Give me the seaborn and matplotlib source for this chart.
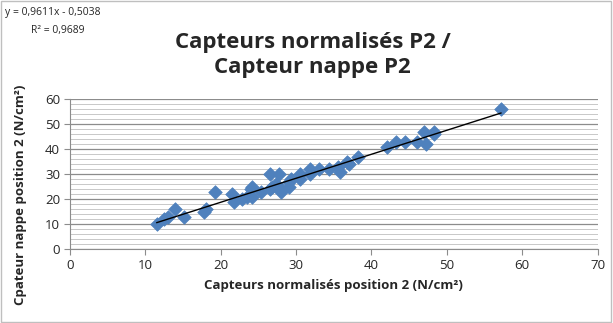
import pandas as pd
import matplotlib.pyplot as plt
import seaborn as sns
import numpy as np

# sensor readings
capteurs_norm = [11.5, 12.5, 13.0, 14.0, 15.2, 17.8, 18.0, 19.2, 21.5, 21.8,
                 22.8, 23.5, 24.0, 24.2, 24.2, 25.3, 26.5, 26.8, 26.5, 27.3,
                 27.8, 28.0, 28.0, 29.0, 29.3, 29.0, 30.5, 30.5, 31.8, 31.8,
                 33.0, 34.3, 35.5, 35.8, 36.8, 37.0, 38.2, 42.0, 43.2, 44.5,
                 46.0, 47.0, 47.2, 48.3, 48.3, 57.2]
capteur_nappe = [10, 12, 13, 16, 13, 15, 16, 23, 22, 19,
                 20, 21, 24, 25, 21, 23, 30, 25, 24, 26,
                 30, 23, 24, 27, 28, 25, 28, 30, 32, 30,
                 32, 32, 33, 31, 35, 34, 37, 41, 43, 43,
                 43, 47, 42, 47, 46, 56]
slope = 0.9611
intercept = -0.5038
r2 = 0.9689

df = pd.DataFrame({'x': capteurs_norm, 'y': capteur_nappe})

sns.set_style('white')
plt.rcParams['font.family'] = ['Open Sans', 'DejaVu Sans']

fig = plt.figure(figsize=(6.13, 3.23), dpi=100)
ax = fig.add_axes([0.114, 0.229, 0.861, 0.464])

ax.set_xlim(0, 70)
ax.set_ylim(0, 60)
ax.set_xticks(range(0, 71, 10))
ax.set_yticks(range(0, 61, 10))
ax.set_yticks(range(0, 61, 2), minor=True)
ax.grid(True, which='major', axis='y', color='#8c8c8c', lw=0.9)
ax.grid(True, which='minor', axis='y', color='#c8c8c8', lw=0.7)
ax.set_axisbelow(True)

sns.scatterplot(data=df, x='x', y='y', marker='D', s=48, color='#4f81bd',
                edgecolor='#4f81bd', linewidth=0.5, ax=ax, zorder=3)

xl = np.array([min(capteurs_norm), max(capteurs_norm)])
ax.plot(xl, slope * xl + intercept, color='black', lw=1, zorder=4)

for s in ['top', 'right']:
    ax.spines[s].set_visible(False)
for s in ['left', 'bottom']:
    ax.spines[s].set_color('#8c8c8c')
ax.tick_params(axis='both', which='major', direction='out', length=4,
               color='#8c8c8c', labelsize=9.5, pad=3)
ax.tick_params(axis='both', which='minor', length=0)
ax.tick_params(left=True, bottom=True)

ax.set_xlabel('Capteurs normalisés position 2 (N/cm²)', fontsize=9.5,
              fontweight='bold', labelpad=5)
ax.set_ylabel('Cpateur nappe position 2 (N/cm²)', fontsize=9.5,
              fontweight='bold')
ax.yaxis.set_label_coords(-0.082, 0.36)

fig.text(0.51, 0.83, 'Capteurs normalisés P2 /\nCapteur nappe P2',
         ha='center', va='center', fontsize=16, fontweight='bold',
         linespacing=1.3)

eq = f'y = {slope:.4f}x - {-intercept:.4f}'.replace('.', ',')
fig.text(0.008, 0.962, eq, ha='left', va='center', fontsize=7.5)
fig.text(0.05, 0.905, f'R² = {r2:.4f}'.replace('.', ','), ha='left',
         va='center', fontsize=7.5)

fig.patches.append(plt.Rectangle((0.002, 0.003), 0.994, 0.994,
                                 transform=fig.transFigure, fill=False,
                                 edgecolor='#bfbfbf', lw=1))

plt.savefig('out.png', dpi=100)
